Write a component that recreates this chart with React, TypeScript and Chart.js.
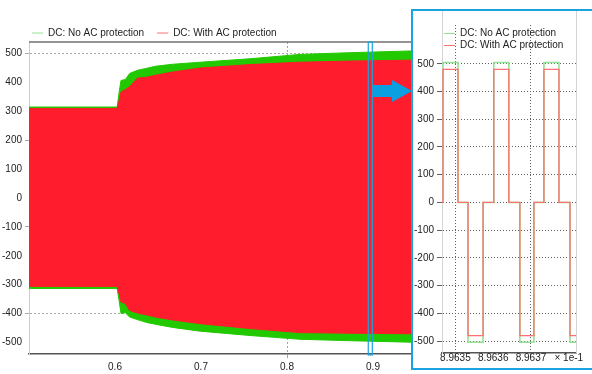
import React, { useEffect, useRef } from 'react';
import { Chart, registerables } from 'chart.js';

Chart.register(...registerables);

const FONT = { family: '"Liberation Sans", Arial, sans-serif', size: 10 };
const TEXT = '#222222';

// ---------- main chart: envelope of the dense DC waveform (time s, voltage V) ----------
const mainTime = [0.5, 0.6025, 0.605, 0.607, 0.612, 0.617, 0.626, 0.637, 0.647, 0.667, 0.699, 0.757, 0.815, 0.873, 0.943, 1.0];
const noAcUpper = [315, 315, 370, 407, 410, 431, 442, 449, 456, 463, 470, 482, 497, 503, 509, 511];
const noAcLower = [-313, -313, -360, -400, -397, -412, -421, -431, -437, -448, -461, -476, -489, -494, -499, -501];
const withAcUpper = [310, 310, 340, 367, 375, 385, 415, 418, 425, 436, 450, 462, 470, 474, 477, 479];
const withAcLower = [-306, -306, -335, -360, -365, -389, -398, -405, -412, -422, -435, -452, -466, -468, -470, -472];
const mainYTicks = [500, 400, 300, 200, 100, 0, -100, -200, -300, -400, -500];
const mainXTicks = [0.5, 0.6, 0.7, 0.8, 0.9, 1.0];
const mainYGrid = [500, 200, -100, -400];
const mainXGrid = [0.8];
const zoomWindow = [0.8945, 0.8992];

// ---------- inset: zoomed waveform (time x 1e-1 s, voltage V) ----------
const insetTime = [8.9634645, 8.9634671, 8.9635069, 8.9635334, 8.9635732, 8.9636016, 8.9636414, 8.9636706, 8.9637077, 8.9637342, 8.963774, 8.9638032, 8.9638191];
const insetNoAc = [0, 505, 0, -504, 0, 505, 0, -504, 0, 505, 0, -504, -504];
const insetWithAc = [0, 480, 0, -480, 0, 480, 0, -480, 0, 480, 0, -480, -480];
const insetYTicks = [500, 400, 300, 200, 100, 0, -100, -200, -300, -400, -500];
const insetXTicks = [8.9635, 8.9636, 8.9637, 8.9638];
const insetXGrid = [8.9635, 8.9637];
const seriesNames = ['DC: No AC protection', 'DC: With AC protection'];

const GREEN_FILL = '#22C800';
const RED_FILL = '#FF1C2C';
const GREEN_LINE = '#94E294';
const RED_LINE = '#FF7070';
const BLUE = '#1AA3E2';

const near = (a: number, list: number[], tol: number) => list.some((v) => Math.abs(v - a) < tol);

const legendItems = () => [
  { text: seriesNames[0], strokeStyle: GREEN_LINE, fillStyle: GREEN_LINE, lineWidth: 1, pointStyle: 'line', hidden: false, datasetIndex: 0, fontColor: TEXT },
  { text: seriesNames[1], strokeStyle: RED_LINE, fillStyle: RED_LINE, lineWidth: 1, pointStyle: 'line', hidden: false, datasetIndex: 1, fontColor: TEXT },
];

const mainDecor = {
  id: 'mainDecor',
  afterLayout(chart: any) {
    // let the y tick labels use the space left of the narrow axis box
    chart.scales.y.left = 0;
  },
  afterDatasetsDraw(chart: any) {
    const { ctx, chartArea: a, scales } = chart;
    const x = scales.x;
    ctx.save();
    ctx.strokeStyle = '#707070';
    ctx.lineWidth = 1.5;
    ctx.beginPath();
    ctx.moveTo(a.left, a.top);
    ctx.lineTo(a.right, a.top);
    ctx.stroke();
    const x0 = x.getPixelForValue(zoomWindow[0]);
    const x1 = x.getPixelForValue(zoomWindow[1]);
    ctx.strokeStyle = BLUE;
    ctx.lineWidth = 1.2;
    ctx.strokeRect(x0, a.top, x1 - x0, a.bottom - a.top + 1);
    const ay = 91;
    const hx = 392;
    const tip = 412;
    ctx.fillStyle = '#0A9FE0';
    ctx.beginPath();
    ctx.moveTo(x1 + 0.5, ay - 6);
    ctx.lineTo(hx, ay - 6);
    ctx.lineTo(hx, ay - 11);
    ctx.lineTo(tip, ay);
    ctx.lineTo(hx, ay + 11);
    ctx.lineTo(hx, ay + 6);
    ctx.lineTo(x1 + 0.5, ay + 6);
    ctx.closePath();
    ctx.fill();
    ctx.restore();
  },
};

const insetDecor = {
  id: 'insetDecor',
  afterLayout(chart: any) {
    // legend sits inside the plot, just below its top edge
    if (chart.legend) {
      chart.legend.top = chart.chartArea.top + 1.5;
    }
  },
  afterDatasetsDraw(chart: any) {
    const { ctx, chartArea: a } = chart;
    ctx.save();
    ctx.strokeStyle = '#d4d4d4';
    ctx.lineWidth = 1;
    ctx.beginPath();
    ctx.moveTo(a.right + 0.5, 0);
    ctx.lineTo(a.right + 0.5, a.bottom);
    ctx.stroke();
    ctx.beginPath();
    ctx.moveTo(a.left + 0.5, 0);
    ctx.lineTo(a.left + 0.5, a.top);
    ctx.stroke();
    ctx.restore();
  },
};

export default function App() {
  const mainRef = useRef<HTMLCanvasElement>(null);
  const insetRef = useRef<HTMLCanvasElement>(null);

  useEffect(() => {
    const pts = (xs: number[], ys: number[]) => xs.map((t, i) => ({ x: t, y: ys[i] }));

    const main = new Chart(mainRef.current as HTMLCanvasElement, {
      type: 'line',
      data: {
        datasets: [
          { label: seriesNames[1], data: pts(mainTime, withAcUpper), borderColor: RED_FILL, backgroundColor: RED_FILL, borderWidth: 1, pointRadius: 0, fill: '+1' },
          { label: seriesNames[1] + ' lower', data: pts(mainTime, withAcLower), borderColor: RED_FILL, backgroundColor: RED_FILL, borderWidth: 1, pointRadius: 0, fill: false },
          { label: seriesNames[0], data: pts(mainTime, noAcUpper), borderColor: GREEN_FILL, backgroundColor: GREEN_FILL, borderWidth: 1, pointRadius: 0, fill: '+1' },
          { label: seriesNames[0] + ' lower', data: pts(mainTime, noAcLower), borderColor: GREEN_FILL, backgroundColor: GREEN_FILL, borderWidth: 1, pointRadius: 0, fill: false },
        ],
      } as any,
      options: {
        responsive: false,
        animation: false,
        layout: { padding: { left: 19, top: 15, right: 133, bottom: 0 } },
        plugins: {
          legend: {
            position: 'top',
            align: 'start',
            maxHeight: 27,
            labels: {
              padding: 13,
              usePointStyle: true,
              pointStyle: 'line',
              pointStyleWidth: 11,
              color: TEXT,
              font: FONT,
              generateLabels: legendItems as any,
            },
          },
          tooltip: { enabled: false },
        },
        scales: {
          x: {
            type: 'linear',
            min: 0.5,
            max: 1.0,
            afterBuildTicks: (s: any) => { s.ticks = mainXTicks.map((v) => ({ value: v })); },
            afterFit: (s: any) => { s.height = 20; },
            ticks: {
              autoSkip: false,
              maxRotation: 0,
              padding: 3,
              color: TEXT,
              font: FONT,
              callback: (v: any) => (Math.abs(v - 0.5) < 1e-9 || Math.abs(v - 1) < 1e-9 ? '' : Number(v).toFixed(1)),
            },
            grid: {
              tickLength: 4,
              color: (c: any) => (c.tick && near(c.tick.value, mainXGrid, 1e-9) ? '#a0a0a0' : 'rgba(0,0,0,0)'),
            },
            border: { color: '#555555', width: 1.5, dash: [2, 2] },
          },
          y: {
            type: 'linear',
            min: -540,
            max: 540,
            afterBuildTicks: (s: any) => { s.ticks = mainYTicks.map((v) => ({ value: v })); },
            afterFit: (s: any) => { s.width = 10; },
            ticks: { padding: 3, color: TEXT, font: FONT },
            grid: {
              tickLength: 4,
              color: (c: any) => (c.tick && near(c.tick.value, mainYGrid, 1e-6) ? '#a8a8a8' : 'rgba(0,0,0,0)'),
            },
            border: { color: '#cccccc', width: 1, dash: [2, 2] },
          },
        },
      } as any,
      plugins: [mainDecor],
    });

    const inset = new Chart(insetRef.current as HTMLCanvasElement, {
      type: 'line',
      data: {
        datasets: [
          { label: seriesNames[1], data: pts(insetTime, insetWithAc), borderColor: RED_LINE, borderWidth: 1.3, pointRadius: 0, stepped: 'before', fill: false },
          { label: seriesNames[0], data: pts(insetTime, insetNoAc), borderColor: GREEN_LINE, borderWidth: 1.6, pointRadius: 0, stepped: 'before', fill: false },
        ],
      } as any,
      options: {
        responsive: false,
        animation: false,
        layout: { padding: { left: 0, top: 14, right: 16, bottom: 0 } },
        plugins: {
          legend: {
            position: 'chartArea',
            align: 'start',
            labels: {
              padding: 2,
              usePointStyle: true,
              pointStyle: 'line',
              pointStyleWidth: 11,
              color: TEXT,
              font: FONT,
              generateLabels: legendItems as any,
            },
          },
          tooltip: { enabled: false },
        },
        scales: {
          x: {
            type: 'linear',
            min: insetTime[0],
            max: insetTime[insetTime.length - 1],
            afterBuildTicks: (s: any) => { s.ticks = insetXTicks.map((v) => ({ value: v })); },
            afterFit: (s: any) => { s.height = 15; },
            ticks: {
              autoSkip: false,
              maxRotation: 0,
              padding: -5,
              color: TEXT,
              font: FONT,
              callback: (v: any, i: number) => (i === insetXTicks.length - 1 ? '\u00d7 1e-1' : Number(v).toFixed(4)),
            },
            grid: {
              tickLength: 4,
              color: (c: any) => (c.tick && near(c.tick.value, insetXGrid, 1e-7) ? '#606060' : 'rgba(0,0,0,0)'),
            },
            border: { color: '#555555', width: 1.5, dash: [1, 2] },
          },
          y: {
            type: 'linear',
            min: -543,
            max: 640,
            afterBuildTicks: (s: any) => { s.ticks = insetYTicks.map((v) => ({ value: v })); },
            afterFit: (s: any) => { s.width = 29; },
            ticks: { padding: 3, color: TEXT, font: FONT },
            grid: { tickLength: 5, color: '#606060' },
            border: { color: '#d4d4d4', width: 1, dash: [1, 2] },
          },
        },
      } as any,
      plugins: [insetDecor],
    });

    return () => {
      main.destroy();
      inset.destroy();
    };
  }, []);

  return (
    <div style={{ position: 'fixed', left: 0, top: 0, width: 592, height: 374, overflow: 'hidden', background: '#ffffff' }}>
      <canvas ref={mainRef} width={592} height={374} style={{ position: 'absolute', left: 0, top: 0 }} />
      <div
        style={{
          position: 'absolute',
          left: 411,
          top: 9,
          width: 190,
          height: 361,
          border: `2px solid ${BLUE}`,
          boxSizing: 'border-box',
          background: '#ffffff',
        }}
      >
        <canvas ref={insetRef} width={179} height={357} style={{ position: 'absolute', left: 0, top: 0 }} />
      </div>
    </div>
  );
}
